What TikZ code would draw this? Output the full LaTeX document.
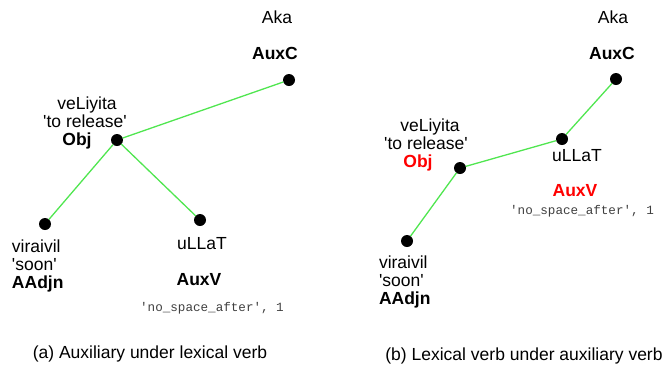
\documentclass[tikz,border=0pt]{standalone}
\usepackage{fontspec}
\setmainfont{Liberation Sans}
\setmonofont{Liberation Mono}
\begin{document}
\begin{tikzpicture}[x=1pt,y=-1pt,
  every node/.style={inner sep=0pt,outer sep=0pt,font=\fontsize{17.5}{18}\selectfont},
  lbl/.style={anchor=base},
  lbll/.style={anchor=base west},
  bl/.style={anchor=base,font=\fontsize{17.5}{18}\selectfont\bfseries},
  bll/.style={anchor=base west,font=\fontsize{17.5}{18}\selectfont\bfseries},
  feat/.style={anchor=base,font=\fontsize{12.6}{14}\selectfont\ttfamily,text=black!75},
  dot/.style={circle,fill=black,minimum size=12pt},
  edge/.style={draw={rgb,255:red,80;green,230;blue,80},line width=1.3pt}]
\useasboundingbox (0,0) rectangle (667,365);
% ---------- panel (a)
\node[dot] (aObj) at (117,140) {};
\node[dot] (aAuxC) at (289,80) {};
\node[dot] (aAAdjn) at (45,224) {};
\node[dot] (aAuxV) at (200,220) {};
\draw[edge] (aObj) -- (aAuxC);
\draw[edge] (aObj) -- (aAAdjn);
\draw[edge] (aObj) -- (aAuxV);
\node[lbl] (aAka) at (277,23) {Aka};
\node[bl] (aAuxCl) at (275,59) {AuxC};
\node[lbl] (aVel) at (87,109) {veLiyita};
\node[lbl] (aRel) at (85,127) {\textquotesingle to release\textquotesingle};
\node[bl] (aObjl) at (77,145) {Obj};
\node[lbll] (aVir) at (12,252) {viraivil};
\node[lbll] (aSoon) at (12,270) {\textquotesingle soon\textquotesingle};
\node[bll] (aAAdjnl) at (12,288) {AAdjn};
\node[lbl] (aUll) at (202,249) {uLLaT};
\node[bl] (aAuxVl) at (199,285) {AuxV};
\node[feat] (aFeat) at (212,311) {\textquotesingle no\_space\_after\textquotesingle, 1};
\node[lbl] (aCap) at (150,358) {(a) Auxiliary under lexical verb};
% ---------- panel (b)
\node[dot] (bAuxC) at (616,79) {};
\node[dot] (bAuxV) at (562,139) {};
\node[dot] (bObj) at (460,168) {};
\node[dot] (bAAdjn) at (407,241) {};
\draw[edge] (bAuxC) -- (bAuxV);
\draw[edge] (bAuxV) -- (bObj);
\draw[edge] (bObj) -- (bAAdjn);
\node[lbl] (bAka) at (613,23) {Aka};
\node[bl] (bAuxCl) at (612,59) {AuxC};
\node[lbl] (bVel) at (430,131) {veLiyita};
\node[lbl] (bRel) at (426,149) {\textquotesingle to release\textquotesingle};
\node[bl,text=red] (bObjl) at (418,167) {Obj};
\node[lbl] (bUll) at (577,161) {uLLaT};
\node[bl,text=red] (bAuxVl) at (575,196) {AuxV};
\node[feat] (bFeat) at (582,214) {\textquotesingle no\_space\_after\textquotesingle, 1};
\node[lbll] (bVir) at (379,268) {viraivil};
\node[lbll] (bSoon) at (379,286) {\textquotesingle soon\textquotesingle};
\node[bll] (bAAdjnl) at (379,304) {AAdjn};
\node[lbl] (bCap) at (524,360) {(b) Lexical verb under auxiliary verb};
\end{tikzpicture}
\end{document}
